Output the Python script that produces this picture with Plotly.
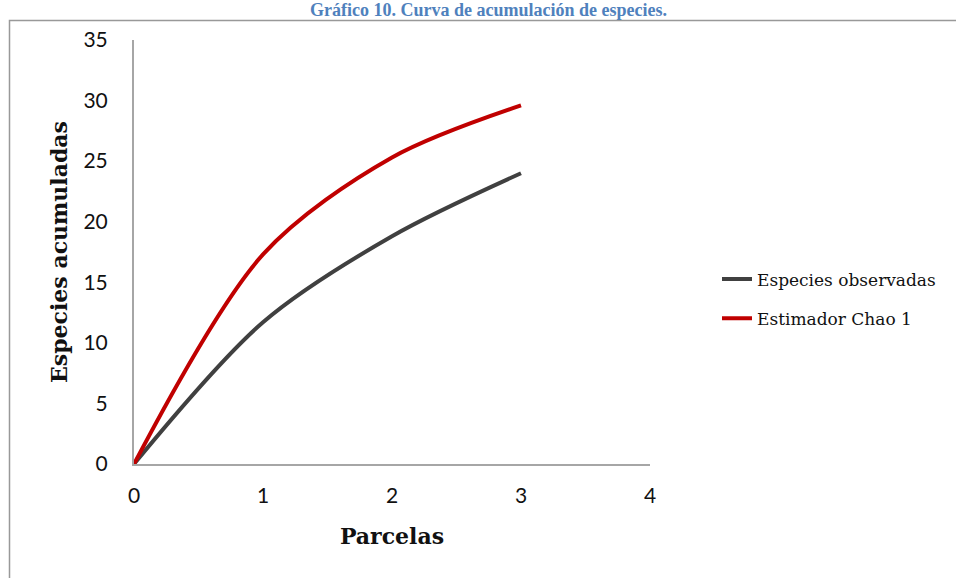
import plotly.graph_objects as go

# Species accumulation per plot
parcelas = [0, 1, 2, 3]
especies_observadas = [0, 11.7, 18.8, 24.0]
chao1 = [0, 17.3, 25.3, 29.6]

series_names = ["Especies observadas", "Estimador Chao 1"]
series_colors = ["#404040", "#C00000"]

x_ticks = [0, 1, 2, 3, 4]
y_ticks = [0, 5, 10, 15, 20, 25, 30, 35]

W, H = 956, 578
L, R, T, B = 134, 306, 40, 114
pw, ph = W - L - R, H - T - B

fig = go.Figure()
for i, (name, ys) in enumerate(zip(series_names, [especies_observadas, chao1])):
    fig.add_trace(go.Scatter(
        x=parcelas, y=ys, mode="lines", name=name,
        line=dict(color=series_colors[i], width=4, shape="spline", smoothing=0.9),
        legendgroup=name,
    ))

def px_x(p):
    return (p - L) / pw

def px_y(p):
    return (H - B - p) / ph

fig.update_layout(
    width=W, height=H,
    margin=dict(l=L, r=R, t=T, b=B, autoexpand=False),
    paper_bgcolor="white", plot_bgcolor="white",
    showlegend=True,
    legend=dict(
        x=px_x(717), y=px_y(299), xanchor="left", yanchor="middle",
        font=dict(family="DejaVu Serif", size=17, color="#111111"),
        traceorder="grouped", tracegroupgap=14,
        bgcolor="rgba(0,0,0,0)", itemwidth=30,
    ),
    xaxis=dict(
        range=[0, 4], tickvals=x_ticks, showgrid=False, zeroline=False,
        showline=True, linecolor="#A6A6A6", linewidth=2, ticks="",
        tickfont=dict(family="Lato", size=21, color="#111111"),
        ticklabelstandoff=12,
        title=dict(text="<b>Parcelas</b>", standoff=22,
                   font=dict(family="DejaVu Serif", size=22, color="#111111")),
        fixedrange=True,
    ),
    yaxis=dict(
        range=[0, 35], tickvals=y_ticks, showgrid=False, zeroline=False,
        showline=True, linecolor="#A6A6A6", linewidth=2, ticks="",
        tickfont=dict(family="Lato", size=21, color="#111111"),
        ticklabelstandoff=20,
        title=dict(text="<b>Especies acumuladas</b>", standoff=10,
                   font=dict(family="DejaVu Serif", size=22, color="#111111")),
        fixedrange=True,
    ),
    shapes=[dict(
        type="rect", xref="paper", yref="paper",
        x0=px_x(9.5), x1=px_x(W + 10), y0=px_y(H + 10), y1=px_y(20.5),
        line=dict(color="#999999", width=1.5), fillcolor="rgba(0,0,0,0)",
        layer="below",
    )],
    annotations=[dict(
        text="<b>Gráfico 10. Curva de acumulación de especies.</b>",
        xref="paper", yref="paper", x=px_x(488), y=px_y(10),
        xanchor="center", yanchor="middle", showarrow=False,
        font=dict(family="Liberation Serif", size=18, color="#4F81BD"),
    )],
)

fig.write_html("out.html")
